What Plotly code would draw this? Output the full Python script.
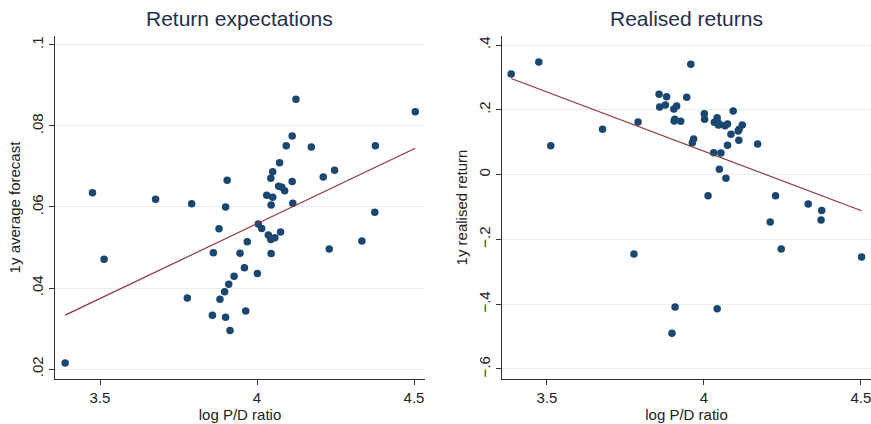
import numpy as np
import plotly.graph_objects as go

# Left panel: log P/D ratio vs 1y average forecast
pd_expect = [3.389, 3.476, 3.513, 3.677, 3.778, 3.792, 3.858, 3.861, 3.879, 3.882,
             3.897, 3.900, 3.900, 3.905, 3.910, 3.914, 3.927, 3.946, 3.960, 3.964,
             3.969, 4.001, 4.004, 4.015, 4.031, 4.036, 4.044, 4.044, 4.045, 4.045,
             4.050, 4.050, 4.057, 4.069, 4.072, 4.075, 4.079, 4.088, 4.093, 4.112,
             4.112, 4.114, 4.124, 4.173, 4.211, 4.230, 4.247, 4.334, 4.375, 4.377,
             4.504]
forecast = [0.0215, 0.0635, 0.0471, 0.0619, 0.0375, 0.0608, 0.0333, 0.0487, 0.0546, 0.0372,
            0.0391, 0.0600, 0.0328, 0.0666, 0.0409, 0.0295, 0.0429, 0.0486, 0.0450, 0.0343,
            0.0514, 0.0436, 0.0558, 0.0547, 0.0629, 0.0531, 0.0671, 0.0520, 0.0605, 0.0485,
            0.0687, 0.0624, 0.0524, 0.0651, 0.0709, 0.0538, 0.0649, 0.0640, 0.0751, 0.0775,
            0.0663, 0.0609, 0.0866, 0.0748, 0.0674, 0.0496, 0.0691, 0.0516, 0.0587, 0.0751,
            0.0835]

# Right panel: log P/D ratio vs 1y realised return
pd_realised = [3.386, 3.474, 3.512, 3.677, 3.777, 3.790, 3.857, 3.859, 3.877, 3.881,
               3.898, 3.904, 3.913, 3.905, 3.907, 3.908, 3.926, 3.945, 3.958, 3.963,
               3.967, 4.001, 4.002, 4.013, 4.031, 4.033, 4.042, 4.042, 4.044, 4.046,
               4.049, 4.050, 4.054, 4.067, 4.070, 4.075, 4.075, 4.086, 4.093, 4.109,
               4.111, 4.112, 4.122, 4.171, 4.211, 4.228, 4.246, 4.332, 4.373, 4.375,
               4.502]
realised = [0.3105, 0.3475, 0.0893, 0.1398, -0.245, 0.1623, 0.2478, 0.2086, 0.2148, 0.2405,
            -0.490, 0.2025, 0.2117, 0.1654, 0.1707, -0.4086, 0.1645, 0.2385, 0.3404, 0.0985,
            0.1099, 0.188, 0.1707, -0.065, 0.0676, 0.1614, 0.1756, -0.414, 0.160, 0.153,
            0.0163, 0.155, 0.0667, 0.151, -0.0115, 0.156, 0.0904, 0.1244, 0.1963, 0.1346,
            0.106, 0.140, 0.153, 0.0944, -0.146, -0.065, -0.2296, -0.091, -0.140, -0.111,
            -0.254]

left_ticks = [0.02, 0.04, 0.06, 0.08, 0.1]
left_ticktext = [".02", ".04", ".06", ".08", ".1"]
right_ticks = [-0.6, -0.4, -0.2, 0.0, 0.2, 0.4]
right_ticktext = ["\u2212.6", "\u2212.4", "\u2212.2", "0", ".2", ".4"]
x_ticks = [3.5, 4.0, 4.5]
x_ticktext = ["3.5", "4", "4.5"]

NAVY = "#1a476f"
MAROON = "#90353b"
GRID = "#e8eff1"
AXIS = "#333333"
TITLE = "#1e2f4f"
TEXT = "#222222"
FONT = "Liberation Sans, Arial, sans-serif"


def fit_line(x, y):
    x = np.asarray(x)
    slope, intercept = np.polyfit(x, np.asarray(y), 1)
    xs = np.array([x.min(), x.max()])
    return xs, intercept + slope * xs


fig = go.Figure()

fx, fy = fit_line(pd_expect, forecast)
fig.add_trace(go.Scatter(x=pd_expect, y=forecast, mode="markers",
                         marker=dict(color=NAVY, size=7.5, line=dict(width=0)),
                         xaxis="x", yaxis="y", showlegend=False))
fig.add_trace(go.Scatter(x=fx, y=fy, mode="lines", line=dict(color=MAROON, width=1.2),
                         xaxis="x", yaxis="y", showlegend=False))

rx, ry = fit_line(pd_realised, realised)
fig.add_trace(go.Scatter(x=pd_realised, y=realised, mode="markers",
                         marker=dict(color=NAVY, size=7.5, line=dict(width=0)),
                         xaxis="x2", yaxis="y2", showlegend=False))
fig.add_trace(go.Scatter(x=rx, y=ry, mode="lines", line=dict(color=MAROON, width=1.2),
                         xaxis="x2", yaxis="y2", showlegend=False))

W, H = 871, 424
y_dom = [(H - 379) / H, (H - 36) / H]

xaxis_common = dict(
    tickvals=x_ticks, ticktext=x_ticktext, showgrid=False, zeroline=False,
    showline=True, linecolor=AXIS, linewidth=1, ticks="outside", ticklen=5,
    tickcolor=AXIS, tickfont=dict(size=15, color=TEXT), ticklabeloverflow="allow",
    title=dict(text="log P/D ratio", font=dict(size=15, color=TEXT), standoff=4),
)
yaxis_common = dict(
    showgrid=True, gridcolor=GRID, gridwidth=1, zeroline=False,
    showline=True, linecolor=AXIS, linewidth=1, ticks="outside", ticklen=5,
    tickcolor=AXIS, tickangle=-90, tickfont=dict(size=15, color=TEXT),
)

fig.update_layout(
    width=W, height=H,
    margin=dict(l=0, r=0, t=0, b=0),
    paper_bgcolor="white", plot_bgcolor="white",
    font=dict(family=FONT),
    xaxis=dict(domain=[55 / W, 425 / W], range=[3.3567, 4.535], anchor="y", **xaxis_common),
    yaxis=dict(domain=y_dom, range=[0.01753, 0.10222], anchor="x",
               tickvals=left_ticks, ticktext=left_ticktext,
               title=dict(text="1y average forecast", font=dict(size=15, color=TEXT),
                          standoff=4),
               **yaxis_common),
    xaxis2=dict(domain=[502 / W, 1.0], range=[3.3567, 4.532], anchor="y2", **xaxis_common),
    yaxis2=dict(domain=y_dom, range=[-0.6309, 0.4278], anchor="x2",
                tickvals=right_ticks, ticktext=right_ticktext,
                title=dict(text="1y realised return", font=dict(size=15, color=TEXT),
                           standoff=4),
                **yaxis_common),
    annotations=[
        dict(text="Return expectations", x=(55 + 425) / 2 / W, y=(H - 19) / H,
             xref="paper", yref="paper", showarrow=False,
             font=dict(size=21, color=TITLE), xanchor="center", yanchor="middle"),
        dict(text="Realised returns", x=(502 + 871) / 2 / W, y=(H - 19) / H,
             xref="paper", yref="paper", showarrow=False,
             font=dict(size=21, color=TITLE), xanchor="center", yanchor="middle"),
    ],
)

fig.write_html("out.html")
